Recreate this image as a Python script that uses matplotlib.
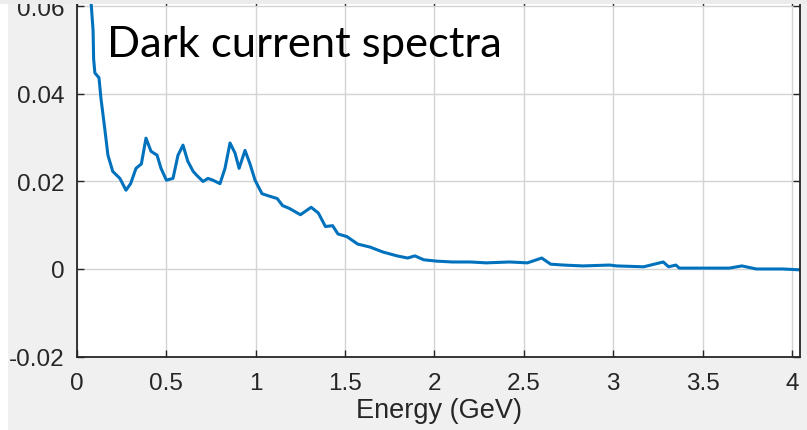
#!/usr/bin/env python3
"""Dark current spectra - energy spectrum plot (MATLAB style)"""

import matplotlib
matplotlib.use("Agg")
import matplotlib.pyplot as plt
from matplotlib.patches import Rectangle

# spectrum (Energy in GeV, arbitrary units)
energy = [0.070, 0.075, 0.090, 0.093, 0.100, 0.123, 0.134, 0.157, 0.173, 0.200,
          0.240, 0.274, 0.300, 0.330, 0.360, 0.386, 0.414, 0.448, 0.470, 0.500,
          0.537, 0.565, 0.593, 0.620, 0.650, 0.670, 0.705, 0.733, 0.760, 0.800,
          0.828, 0.856, 0.884, 0.907, 0.940, 0.968, 0.996, 1.035, 1.080, 1.120,
          1.150, 1.190, 1.250, 1.310, 1.350, 1.390, 1.430, 1.460, 1.510, 1.570,
          1.640, 1.710, 1.790, 1.850, 1.890, 1.940, 2.010, 2.100, 2.200, 2.290,
          2.420, 2.520, 2.600, 2.650, 2.720, 2.830, 2.980, 3.020, 3.170, 3.280,
          3.310, 3.350, 3.370, 3.500, 3.650, 3.720, 3.800, 3.950, 4.045]
counts = [0.0700, 0.0630, 0.0545, 0.0480, 0.0448, 0.0437, 0.0390, 0.0315, 0.0260, 0.0223,
          0.0207, 0.0180, 0.0195, 0.0230, 0.0240, 0.0299, 0.0269, 0.0260, 0.0230, 0.0203,
          0.0207, 0.0260, 0.0283, 0.0246, 0.0223, 0.0214, 0.0200, 0.0207, 0.0203, 0.0195,
          0.0230, 0.0288, 0.0265, 0.0230, 0.0271, 0.0240, 0.0203, 0.0172, 0.0166, 0.0161,
          0.0145, 0.0138, 0.0124, 0.0141, 0.0128, 0.0097, 0.0099, 0.0080, 0.0074, 0.0057,
          0.0050, 0.0039, 0.0030, 0.0025, 0.0030, 0.0021, 0.0018, 0.0016, 0.0016, 0.0014,
          0.0016, 0.0014, 0.0025, 0.0011, 0.0009, 0.0007, 0.0009, 0.0007, 0.0005, 0.0016,
          0.0005, 0.0009, 0.0002, 0.0002, 0.0002, 0.0007, 0.0000, 0.0000, -0.0002]

x_ticks = [0, 0.5, 1, 1.5, 2, 2.5, 3, 3.5, 4]
x_tick_labels = ["0", "0.5", "1", "1.5", "2", "2.5", "3", "3.5", "4"]
y_ticks = [-0.02, 0, 0.02, 0.04, 0.06]
y_tick_labels = ["-0.02", "0", "0.02", "0.04", "0.06"]

title_text = "Dark current spectra"
x_label = "Energy (GeV)"


def main():
    plt.rcParams["axes.unicode_minus"] = False
    plt.rcParams["font.family"] = ["Liberation Sans", "DejaVu Sans"]

    W, H = 807, 431
    fig = plt.figure(figsize=(W / 100, H / 100), dpi=100, facecolor="#f0f0f0")

    # white strip at the left edge and lighter band on top (screenshot crop)
    fig.patches.append(Rectangle((0, 0), 8 / W, 1, transform=fig.transFigure,
                                 facecolor="white", edgecolor="none", zorder=0))
    fig.patches.append(Rectangle((0, 1 - 5 / H), 1, 5 / H, transform=fig.transFigure,
                                 facecolor="#ececec", edgecolor="none", zorder=10))

    ax = fig.add_axes([77 / W, (H - 357.5) / H, 723 / W, 357.5 / H])
    ax.set_facecolor("white")

    ax.plot(energy, counts, color="#0072BD", lw=2.2, solid_joinstyle="round")

    ax.set_xlim(0, 4.045)
    ax.set_ylim(-0.02, 0.0617)
    ax.set_xticks(x_ticks, x_tick_labels)
    ax.set_yticks(y_ticks, y_tick_labels)

    ax.grid(True, color="#d4d4d4", lw=1.0)
    ax.set_axisbelow(True)
    for s in ax.spines.values():
        s.set_color("#262626")
        s.set_linewidth(1.3)
    ax.tick_params(direction="in", length=5, width=1, colors="#262626",
                   labelsize=17.5, top=True, right=True)
    ax.tick_params(axis="y", pad=9)
    ax.tick_params(axis="x", pad=11)

    ax.set_xlabel(x_label, fontsize=19.5, color="#262626", labelpad=2)

    # title placed in display pixels (origin bottom-left)
    ax.text(107, H - 57, title_text, transform=None, fontsize=31.3,
            family="Lato", color="black", va="baseline")

    fig.savefig("out.png", dpi=100, facecolor=fig.get_facecolor())
    plt.close(fig)


if __name__ == "__main__":
    main()
